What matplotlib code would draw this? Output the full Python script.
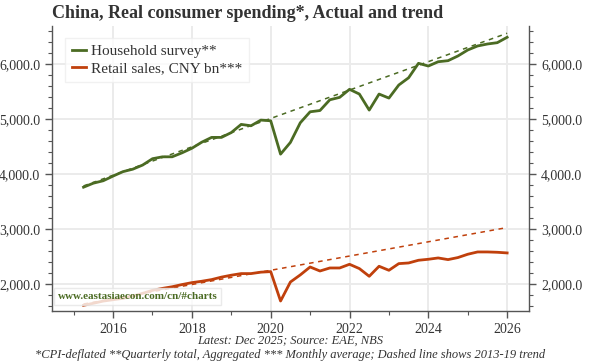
import matplotlib
matplotlib.use("Agg")
import matplotlib.pyplot as plt
from matplotlib.ticker import MultipleLocator, FuncFormatter
import pandas as pd

# ---- data ----
quarters = [f"{y}Q{q}" for y in range(2015, 2026) for q in range(1, 5)]
household = [3758, 3831, 3875, 3960, 4040, 4085, 4160, 4275, 4309, 4310,
             4382, 4465, 4575, 4662, 4662, 4750, 4898, 4873, 4976, 4964,
             4358, 4571, 4927, 5127, 5150, 5345, 5389, 5535, 5449, 5158,
             5449, 5376, 5613, 5745, 6007, 5958, 6036, 6055, 6140, 6249,
             6322, 6358, 6382, 6480]
retail = [1613, 1650, 1690, 1715, 1740, 1780, 1830, 1885, 1920, 1950,
          1990, 2025, 2050, 2080, 2125, 2160, 2189, 2189, 2215, 2225,
          1691, 2036, 2165, 2309, 2236, 2291, 2291, 2358, 2280, 2140,
          2322, 2249, 2370, 2382, 2431, 2449, 2473, 2443, 2480, 2540,
          2582, 2582, 2576, 2564]
trend_quarters = ["2015Q1", "2019Q4", "2025Q4"]
household_trend = [3781, 5006, 6553]
retail_trend = [1636, 2249, 3025]

title = "China, Real consumer spending*, Actual and trend"
caption1 = "Latest: Dec 2025; Source: EAE, NBS"
caption2 = "*CPI-deflated **Quarterly total, Aggregated *** Monthly average; Dashed line shows 2013-19 trend"


def to_year(q):
    p = pd.Period(q, freq="Q")
    return p.year + p.quarter / 4.0


x = [to_year(q) for q in quarters]
xt = [to_year(q) for q in trend_quarters]

GREEN = "#4b6b23"
RED = "#c0400c"
SERIF = "Liberation Serif"

plt.rcParams["font.family"] = [SERIF, "DejaVu Serif"]

fig = plt.figure(figsize=(6.0, 3.64), dpi=100)
ax = fig.add_axes([0.0867, 0.1464, 0.7953, 0.7822])

ax.plot(xt, household_trend, color=GREEN, lw=1.1, ls=(0, (3, 3)), zorder=2)
ax.plot(xt, retail_trend, color=RED, lw=1.1, ls=(0, (3, 3)), zorder=2)
ax.plot(x, household, color=GREEN, lw=2.0, label="Household survey**", zorder=3)
ax.plot(x, retail, color=RED, lw=2.0, label="Retail sales, CNY bn***", zorder=3)

ax.set_xlim(2014.45, 2026.56)
ax.set_ylim(1515, 6685)

ax.xaxis.set_major_locator(MultipleLocator(2))
ax.xaxis.set_minor_locator(MultipleLocator(1))
ax.yaxis.set_major_locator(MultipleLocator(1000))
ax.yaxis.set_minor_locator(MultipleLocator(200))
ax.xaxis.set_major_formatter(FuncFormatter(lambda v, p: f"{int(round(v))}"))
ax.yaxis.set_major_formatter(FuncFormatter(lambda v, p: f"{v:,.1f}"))

ax.grid(True, which="major", color="#ebebeb", lw=1.4, zorder=0)
ax.set_axisbelow(True)

for s in ["left", "right", "bottom"]:
    ax.spines[s].set_color("#555555")
    ax.spines[s].set_linewidth(1.0)
ax.spines["top"].set_visible(False)

ax.tick_params(axis="both", which="both", direction="out", color="#555555",
               labelcolor="#333333", labelsize=10)
ax.tick_params(axis="y", which="both", left=True, right=True,
               labelleft=True, labelright=True)
ax.tick_params(which="major", length=5, width=1)
ax.tick_params(which="minor", length=3, width=0.8)

leg = ax.legend(loc="upper left", bbox_to_anchor=(0.012, 0.985), fontsize=11,
                handlelength=0.9, handletextpad=0.35, borderpad=0.45,
                labelspacing=0.2, frameon=True, fancybox=False)
leg.get_frame().set_edgecolor("#eeeeee")
leg.get_frame().set_linewidth(1.0)
for t in leg.get_texts():
    t.set_color("#333333")

ax.text(0.012, 0.035, "www.eastasiaecon.com/cn/#charts", transform=ax.transAxes,
        fontsize=8, fontweight="bold", color=GREEN, ha="left", va="bottom",
        bbox=dict(boxstyle="square,pad=0.35", facecolor="white", alpha=0.8,
                  edgecolor="#e5e5e5", lw=1.0), zorder=5)

fig.text(0.087, 0.962, title, fontsize=13, fontweight="bold", color="#333333",
         ha="left", va="center")
fig.text(0.484, 0.064, caption1, fontsize=9, style="italic", color="#333333",
         ha="center", va="center")
fig.text(0.484, 0.025, caption2, fontsize=9, style="italic", color="#333333",
         ha="center", va="center")

fig.savefig("out.png", dpi=100)
